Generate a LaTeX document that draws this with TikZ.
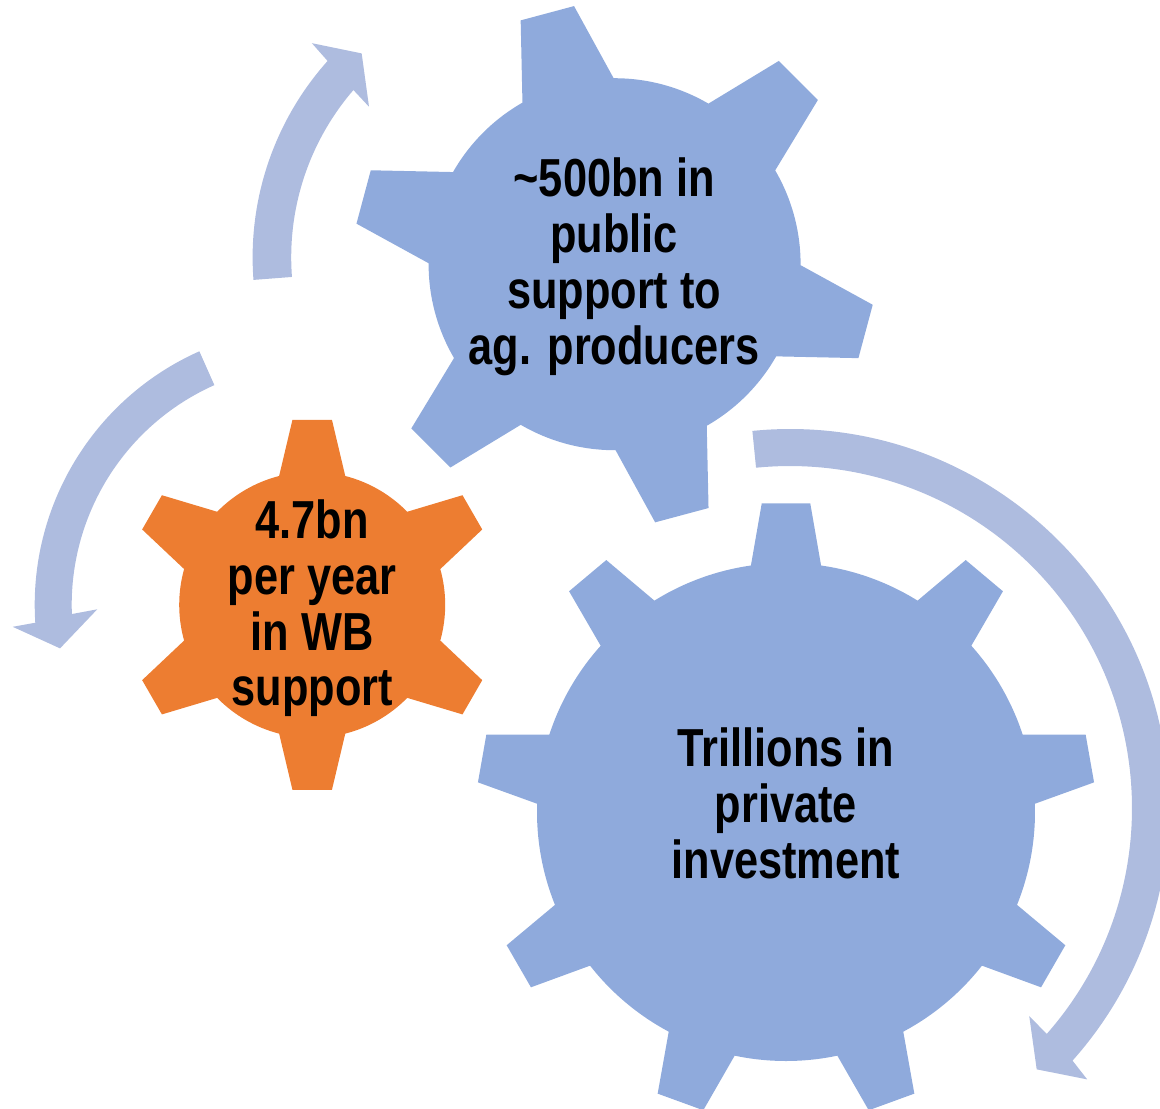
\documentclass[tikz,border=0pt]{standalone}
\usepackage{fontspec}
\newfontfamily\gearfont{Liberation Sans}[FakeStretch=0.81]
\usetikzlibrary{calc}
\definecolor{gearblue}{HTML}{8FAADC}
\definecolor{gearorange}{HTML}{ED7D31}
\definecolor{arrowblue}{HTML}{AEBCDF}
\def\gearwheel[#1](#2)(#3:#4:#5:#6:#7:#8){\fill[#1,shift={(#2)}] ({#4-#8}:#5) \foreach \k [evaluate=\k as \a using #4+(\k-1)*360/#3] in {1,...,#3} {-- ({\a-#8}:#5) -- ({\a-#7}:#6) -- ({\a+#7}:#6) -- ({\a+#8}:#5) arc[start angle=\a+#8, end angle=\a+360/#3-#8, radius=#5]} -- cycle;}
\tikzset{gearlabel/.style={align=center, inner sep=0pt, font=\gearfont\bfseries\fontsize{15.22}{15.85}\selectfont}}

\begin{document}
\begin{tikzpicture}[x=0.01cm, y=-0.01cm]
			%%%%% START %%%%%
			
			\useasboundingbox (0,0) rectangle (1160,1108);
			\clip (0,0) rectangle (1160,1108);
			
			\coordinate (hubA) at (547.2,257.3);
			\coordinate (hubB) at (312.2,604.8);
			\coordinate (hubC) at (790,808);
			
			% arrow round the top gear
			\fill[arrowblue] ($(hubA)+(175.6:294.6)$) arc[start angle=175.6, end angle=221.8, radius=294.6] -- ($(hubA)+(222.3:318.2)$) -- ($(hubA)+(227.7:275.7)$) -- ($(hubA)+(220.2:233.3)$) -- ($(hubA)+(220.8:256)$) arc[start angle=220.8, end angle=175.6, radius=256] -- cycle;
			
			% arrow round the small gear
			\fill[arrowblue] ($(hubB)+(246:277.5)$) arc[start angle=246, end angle=176.3, radius=277.5] -- ($(hubB)+(175.8:300.3)$) -- ($(hubB)+(170.2:255.9)$) -- ($(hubB)+(178.8:215)$) -- ($(hubB)+(177.8:240.5)$) arc[start angle=177.8, end angle=246, radius=240.5] -- cycle;
			
			% arrow round the big gear
			\fill[arrowblue] ($(hubC)+(264.3:379)$) arc[start angle=264.3, end angle=401.8, radius=379] -- ($(hubC)+(402.4:402.5)$) -- ($(hubC)+(406.65:359.4)$) -- ($(hubC)+(401:317)$) -- ($(hubC)+(401.35:342)$) arc[start angle=401.35, end angle=264.3, radius=342] -- cycle;
			
			\gearwheel[gearblue](614.6,264.2)(6:15:186:261.3:6.07:14.7);
			\gearwheel[gearorange](312.2,604.8)(6:30:133:186:6.1:14.4);
			\gearwheel[gearblue](786,812)(9:-90:249:309.5:4.5:8.1);
			
			\node[gearlabel] (public) at (614.2,266.7) {\textasciitilde500bn in\\public\\support to\\ag. producers};
			\node[gearlabel] (wb) at (312.3,608.3) {4.7bn\\per year\\in WB\\support};
			\node[gearlabel] (private) at (786,803.5) {Trillions in\\private\\investment};
			
			%%%%% END %%%%%
\end{tikzpicture}
\end{document}
